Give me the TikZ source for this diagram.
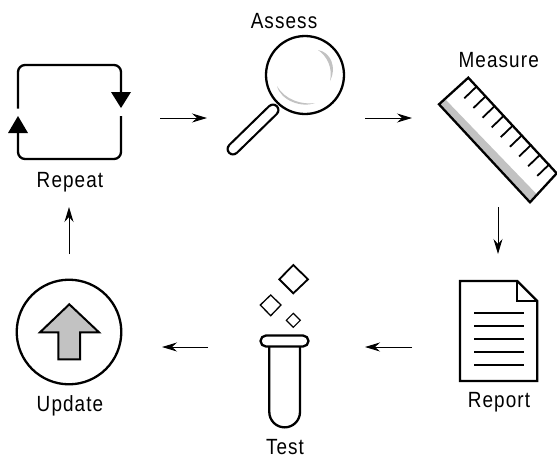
\documentclass[tikz,border=0pt]{standalone}
\usepackage{fontspec}
\usetikzlibrary{arrows.meta}
\setmainfont[FakeStretch=0.86,LetterSpace=5]{Liberation Sans}
\definecolor{midgray}{gray}{0.76}
\tikzset{
  icon/.style={line width=2.3pt,line join=round},
  thinicon/.style={line width=1.8pt,line join=miter},
  anchorbox/.style={inner sep=0pt,outer sep=0pt},
  caption/.style={inner sep=0pt,anchor=base,font=\fontsize{22}{24}\selectfont},
  flow/.style={line width=1pt,-{Stealth[length=15pt,width=9pt,inset=5pt]}},
}
\begin{document}
\begin{tikzpicture}[x=1pt,y=-1pt]
\useasboundingbox (0,0) rectangle (557,456);
% invisible anchors
\node[anchorbox,minimum width=182pt,minimum height=178pt] (repeat) at (69,118) {};
\node[anchorbox,minimum width=158pt,minimum height=178pt] (assess) at (286,118) {};
\node[anchorbox,minimum width=172pt,minimum height=178pt] (measure) at (498,118) {};
\node[anchorbox,minimum width=172pt,minimum height=186pt] (report) at (498,347) {};
\node[anchorbox,minimum width=157pt,minimum height=186pt] (test) at (286.5,347) {};
\node[anchorbox,minimum width=186pt,minimum height=186pt] (update) at (69,347) {};
% connectors
\draw[flow] (repeat.east) -- (assess.west);
\draw[flow] (assess.east) -- (measure.west);
\draw[flow] (measure.south) -- (report.north);
\draw[flow] (report.west) -- (test.east);
\draw[flow] (test.west) -- (update.east);
\draw[flow] (update.north) -- (repeat.south);
% repeat icon
\draw[icon,rounded corners=7pt] (18,108.5) -- (18,65) -- (121,65) -- (121,100);
\draw[icon,rounded corners=7pt] (121,116) -- (121,159) -- (18,159) -- (18,125);
\fill (111,92) -- (131,92) -- (121,108) -- cycle;
\fill (8,133) -- (28,133) -- (18,116) -- cycle;
% magnifier
\fill[midgray] (318,50) .. controls (331,52) and (337,68) .. (330,81) .. controls (333,68) and (327,56) .. (318,50) -- cycle;
\fill[midgray] (277,86) .. controls (281,101) and (302,108) .. (315,103) .. controls (302,105) and (285,100) .. (277,86) -- cycle;
\draw[icon] (305,75) circle (39);
\draw[line width=13pt,line cap=round] (273,110) -- (233,149);
\draw[white,line width=8.6pt,line cap=round] (273,110) -- (233,149);
% ruler
\fill[midgray] (439,104.3) -- (445,99) -- (537,194.5) -- (530,202.3) -- cycle;
\draw[icon,line join=miter] (468.3,77.7) -- (556.7,173.3) -- (530,202.3) -- (439,104.3) -- cycle;
\foreach \t in {0,...,8}{
  \draw[line width=1.8pt] ({464.3+\t*9.12},{98.3+\t*9.7}) -- ++(12.5,-12);
}
% report
\draw[icon,line join=miter] (460,281) -- (517.3,281) -- (537.3,301) -- (537.3,381) -- (460,381) -- cycle;
\draw[icon,line join=miter] (517.3,281) -- (517.3,301) -- (537.3,301);
\foreach \yy in {312.7,326,339,352,365.3}{
  \draw[line width=1.8pt] (474,\yy) -- (524,\yy);
}
% test tube
\draw[thinicon] (293.3,265) -- (308,279.3) -- (293.3,293.3) -- (279.3,279.3) -- cycle;
\draw[line width=1.3pt] (270.7,295) -- (281,305) -- (270.7,315.7) -- (260.3,305) -- cycle;
\draw[line width=1.1pt] (293.3,313.3) -- (300.3,320.3) -- (293.3,327.3) -- (286.3,320.3) -- cycle;
\draw[icon] (269.3,346) -- (269.3,412) arc[start angle=180,end angle=0,x radius=15.35,y radius=15.35] -- (300,346);
\draw[icon,rounded corners=5.5pt] (260.5,335.5) rectangle (308.5,346.5);
% update
\draw[icon] (69,332) circle (52.3);
\draw[fill=midgray,line join=miter,line width=2pt] (69.3,304.3) -- (99,332.3) -- (80,332.3) -- (80,359.3) -- (58.3,359.3) -- (58.3,332.3) -- (40,332.3) -- cycle;
% captions
\node[caption] (repeatlabel) at (70,187) {Repeat};
\node[caption] (assesslabel) at (284,28) {Assess};
\node[caption] (measurelabel) at (498.7,67) {Measure};
\node[caption] (reportlabel) at (499,407) {Report};
\node[caption] (testlabel) at (285,454.5) {Test};
\node[caption] (updatelabel) at (70,411.7) {Update};
\end{tikzpicture}
\end{document}
